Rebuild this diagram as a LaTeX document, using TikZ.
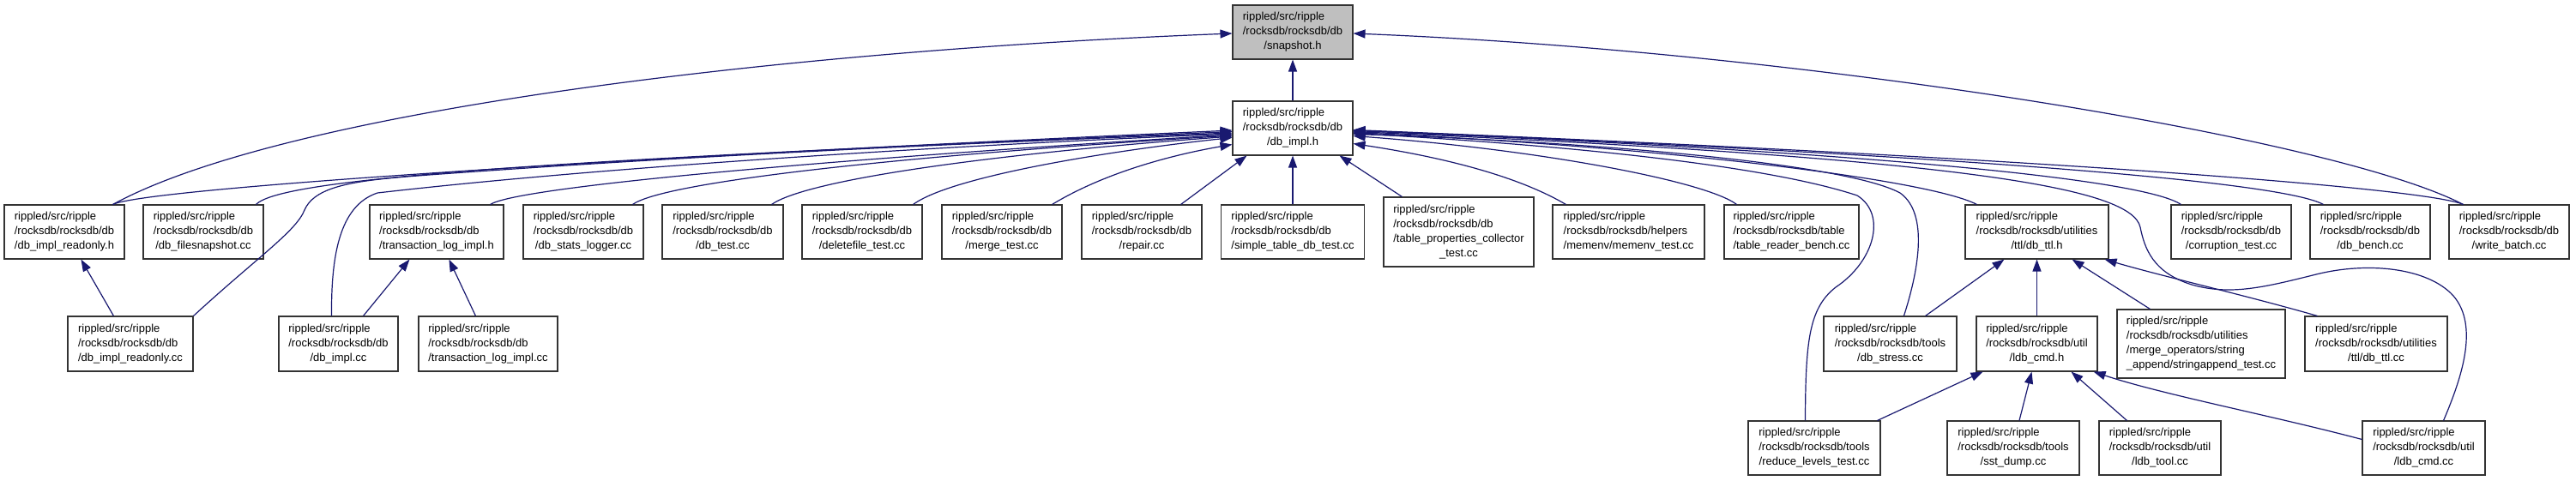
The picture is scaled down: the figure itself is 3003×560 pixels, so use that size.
\documentclass[tikz,border=0pt]{standalone}
\usepackage{fontspec}
\setmainfont{Liberation Sans}
\usetikzlibrary{arrows.meta,calc}
\definecolor{edgec}{HTML}{191970}
\definecolor{nodegray}{HTML}{BFBFBF}
\newcommand\ftxt[2]{\begin{tabular}{@{}l@{}}#1\\\multicolumn{1}{@{}c@{}}{#2}\end{tabular}}
\begin{document}
\begin{tikzpicture}[x=1pt,y=-1pt,
  box/.style={draw=black!80,line width=1.1pt,fill=white,inner sep=0pt,minimum height=63pt,font=\fontsize{13}{17}\selectfont},
  edge/.style={draw=edgec,line width=1.2pt,-{Triangle[length=14pt,width=10pt]}}]
\useasboundingbox (0,0) rectangle (3003,560);
\fill[white] (0,0) rectangle (3003,560);
% top
\node[box,fill=nodegray,minimum width=140pt] (SN) at (1507,37.5) {\ftxt{rippled/src/ripple\\/rocksdb/rocksdb/db}{/snapshot.h}};
\node[box,minimum width=140pt] (DI) at (1507,149.5) {\ftxt{rippled/src/ripple\\/rocksdb/rocksdb/db}{/db\_impl.h}};
% row 1
\node[box,minimum width=140pt] (A) at (75,270.5) {\ftxt{rippled/src/ripple\\/rocksdb/rocksdb/db}{/db\_impl\_readonly.h}};
\node[box,minimum width=140pt] (B) at (237,270.5) {\ftxt{rippled/src/ripple\\/rocksdb/rocksdb/db}{/db\_filesnapshot.cc}};
\node[box,minimum width=156pt] (C) at (509,270.5) {\ftxt{rippled/src/ripple\\/rocksdb/rocksdb/db}{/transaction\_log\_impl.h}};
\node[box,minimum width=140pt] (D) at (680,270.5) {\ftxt{rippled/src/ripple\\/rocksdb/rocksdb/db}{/db\_stats\_logger.cc}};
\node[box,minimum width=141pt] (E) at (842.5,270.5) {\ftxt{rippled/src/ripple\\/rocksdb/rocksdb/db}{/db\_test.cc}};
\node[box,minimum width=140pt] (F) at (1005,270.5) {\ftxt{rippled/src/ripple\\/rocksdb/rocksdb/db}{/deletefile\_test.cc}};
\node[box,minimum width=140pt] (G) at (1168,270.5) {\ftxt{rippled/src/ripple\\/rocksdb/rocksdb/db}{/merge\_test.cc}};
\node[box,minimum width=140pt] (H) at (1331,270.5) {\ftxt{rippled/src/ripple\\/rocksdb/rocksdb/db}{/repair.cc}};
\node[box,minimum width=167pt] (I) at (1507,270.5) {\ftxt{rippled/src/ripple\\/rocksdb/rocksdb/db}{/simple\_table\_db\_test.cc}};
\node[box,minimum width=175pt,minimum height=81pt] (J) at (1700.5,270.5) {\ftxt{rippled/src/ripple\\/rocksdb/rocksdb/db\\/table\_properties\_collector}{\_test.cc}};
\node[box,minimum width=177pt] (K) at (1898.5,270.5) {\ftxt{rippled/src/ripple\\/rocksdb/rocksdb/helpers}{/memenv/memenv\_test.cc}};
\node[box,minimum width=157pt] (L) at (2088.5,270.5) {\ftxt{rippled/src/ripple\\/rocksdb/rocksdb/table}{/table\_reader\_bench.cc}};
\node[box,minimum width=167pt] (M) at (2374.5,270.5) {\ftxt{rippled/src/ripple\\/rocksdb/rocksdb/utilities}{/ttl/db\_ttl.h}};
\node[box,minimum width=140pt] (N) at (2601,270.5) {\ftxt{rippled/src/ripple\\/rocksdb/rocksdb/db}{/corruption\_test.cc}};
\node[box,minimum width=140pt] (O) at (2763,270.5) {\ftxt{rippled/src/ripple\\/rocksdb/rocksdb/db}{/db\_bench.cc}};
\node[box,minimum width=140pt] (P) at (2925,270.5) {\ftxt{rippled/src/ripple\\/rocksdb/rocksdb/db}{/write\_batch.cc}};
% row 2
\node[box,minimum width=146pt,minimum height=64pt] (Q) at (152,401) {\ftxt{rippled/src/ripple\\/rocksdb/rocksdb/db}{/db\_impl\_readonly.cc}};
\node[box,minimum width=139pt,minimum height=64pt] (R) at (394.5,401) {\ftxt{rippled/src/ripple\\/rocksdb/rocksdb/db}{/db\_impl.cc}};
\node[box,minimum width=162pt,minimum height=64pt] (S) at (569,401) {\ftxt{rippled/src/ripple\\/rocksdb/rocksdb/db}{/transaction\_log\_impl.cc}};
\node[box,minimum width=155pt,minimum height=64pt] (T) at (2203.5,401) {\ftxt{rippled/src/ripple\\/rocksdb/rocksdb/tools}{/db\_stress.cc}};
\node[box,minimum width=141pt,minimum height=64pt] (U) at (2374.5,401) {\ftxt{rippled/src/ripple\\/rocksdb/rocksdb/util}{/ldb\_cmd.h}};
\node[box,minimum width=196pt,minimum height=80pt] (V) at (2566,401) {\ftxt{rippled/src/ripple\\/rocksdb/rocksdb/utilities\\/merge\_operators/string}{\_append/stringappend\_test.cc}};
\node[box,minimum width=166pt,minimum height=64pt] (W) at (2770,401) {\ftxt{rippled/src/ripple\\/rocksdb/rocksdb/utilities}{/ttl/db\_ttl.cc}};
% row 3
\node[box,minimum width=154pt] (X) at (2115,522.5) {\ftxt{rippled/src/ripple\\/rocksdb/rocksdb/tools}{/reduce\_levels\_test.cc}};
\node[box,minimum width=154pt] (Y) at (2347,522.5) {\ftxt{rippled/src/ripple\\/rocksdb/rocksdb/tools}{/sst\_dump.cc}};
\node[box,minimum width=142pt] (Z) at (2518,522.5) {\ftxt{rippled/src/ripple\\/rocksdb/rocksdb/util}{/ldb\_tool.cc}};
\node[box,minimum width=143pt] (AA) at (2825.5,522.5) {\ftxt{rippled/src/ripple\\/rocksdb/rocksdb/util}{/ldb\_cmd.cc}};
% edges to snapshot.h
\draw[edge] (DI.north) -- (SN.south);
\draw[edge] ($(A.north east)+(-14,0)$) .. controls (330,130) and (900,60) .. ($(SN.west)+(0,1.5)$);
\draw[edge] ($(P.north west)+(17,0)$) .. controls (2720,160) and (2100,60) .. ($(SN.east)+(0,1.5)$);
% edges to db_impl.h, left
\draw[edge] ($(A.north east)+(-14,0)$) .. controls (170,220) and (700,185) .. ($(DI.west)+(0,2.5)$);
\draw[edge] ($(B.north east)+(-9,0)$) .. controls (330,205) and (700,185) .. ($(DI.west)+(0,4)$);
\draw[edge] (Q.north east) .. controls (300,300) and (345,270) .. (355,245) .. controls (368,215) and (420,210) .. (500,204) .. controls (800,182) and (1100,168) .. ($(DI.west)+(0,5.5)$);
\draw[edge] ($(R.north)+(-8,0)$) .. controls (386,300) and (395,240) .. (440,225) .. controls (700,195) and (1100,170) .. ($(DI.west)+(0,6.5)$);
\draw[edge] ($(C.north east)+(-16,0)$) .. controls (600,220) and (900,190) .. ($(DI.west)+(0,7.5)$);
\draw[edge] ($(D.north east)+(-13,0)$) .. controls (770,215) and (1000,185) .. ($(DI.west)+(0,8.5)$);
\draw[edge] ($(E.north east)+(-14,0)$) .. controls (940,210) and (1150,180) .. ($(DI.west)+(0,9.5)$);
\draw[edge] ($(F.north east)+(-11,0)$) .. controls (1110,205) and (1300,175) .. ($(DI.west)+(0,11)$);
\draw[edge] ($(G.north east)+(-12,0)$) .. controls (1290,200) and (1370,180) .. ($(DI.west)+(0,19)$);
\draw[edge] ($(H.north east)+(-25,0)$) -- ($(DI.south west)+(17,0)$);
\draw[edge] (I.north) -- (DI.south);
\draw[edge] ($(J.north west)+(22,0)$) -- ($(DI.south east)+(-16,0)$);
% edges to db_impl.h, right
\draw[edge] ($(K.north west)+(16,0)$) .. controls (1760,200) and (1660,180) .. ($(DI.east)+(0,18)$);
\draw[edge] ($(L.north west)+(15,0)$) .. controls (1990,212) and (1800,175) .. ($(DI.east)+(0,9)$);
\draw[edge] ($(T.north west)+(94,0)$) .. controls (2235,320) and (2250,250) .. (2215,225) .. controls (2150,190) and (1850,165) .. ($(DI.east)+(0,7)$);
\draw[edge] ($(X.north west)+(67,0)$) .. controls (2105,400) and (2108,360) .. (2140,335) .. controls (2185,305) and (2200,250) .. (2165,228) .. controls (2050,190) and (1800,168) .. ($(DI.east)+(0,6)$);
\draw[edge] ($(M.north west)+(14,0)$) .. controls (2250,210) and (1950,172) .. ($(DI.east)+(0,5)$);
\draw[edge] ($(AA.north east)+(-49,0)$) .. controls (2870,440) and (2890,380) .. (2860,345) .. controls (2830,312) and (2760,305) .. (2700,320) .. controls (2640,335) and (2600,345) .. (2555,332) .. controls (2510,318) and (2500,290) .. (2495,265) .. controls (2485,220) and (2300,185) .. ($(DI.east)+(0,4)$);
\draw[edge] ($(N.north west)+(12,0)$) .. controls (2500,210) and (2200,178) .. ($(DI.east)+(0,3)$);
\draw[edge] ($(O.north west)+(16,0)$) .. controls (2660,212) and (2300,182) .. ($(DI.east)+(0,2.5)$);
\draw[edge] ($(P.north west)+(17,0)$) .. controls (2830,220) and (2400,185) .. ($(DI.east)+(0,2)$);
% edges to db_ttl.h
\draw[edge] ($(T.north east)+(-37,0)$) -- ($(M.south west)+(46,0)$);
\draw[edge] (U.north) -- (M.south);
\draw[edge] ($(V.north west)+(39,0)$) -- ($(M.south east)+(-43,0)$);
\draw[edge] ($(W.north west)+(15,0)$) .. controls (2620,345) and (2520,322) .. ($(M.south east)+(-5,0)$);
% edges to ldb_cmd.h
\draw[edge] ($(X.north east)+(-4,0)$) -- ($(U.south west)+(8,0)$);
\draw[edge] ($(Y.north)+(7,0)$) -- ($(U.south)+(-6,0)$);
\draw[edge] ($(Z.north west)+(33,0)$) -- ($(U.south)+(40,0)$);
\draw[edge] ($(AA.west)+(0,-10)$) .. controls (2650,485) and (2520,460) .. ($(U.south east)+(-5,0)$);
% edges to transaction_log_impl.h
\draw[edge] ($(R.north)+(29,0)$) -- ($(C.south west)+(47,0)$);
\draw[edge] ($(S.north west)+(67,0)$) -- ($(C.south west)+(93,0)$);
% edge to db_impl_readonly.h
\draw[edge] ($(Q.north west)+(54,0)$) -- ($(A.south west)+(90,0)$);
\end{tikzpicture}
\end{document}
